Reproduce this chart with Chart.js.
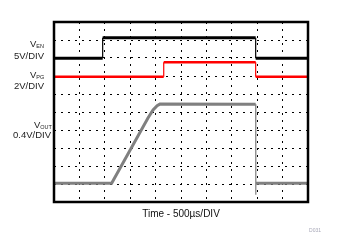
<!DOCTYPE html>
<html>
<head>
<meta charset="utf-8">
<script src="https://cdn.jsdelivr.net/npm/chart.js@4"></script>
<style>
  html, body { margin: 0; padding: 0; background: #fff; }
  canvas { display: block; }
</style>
</head>
<body>
<canvas id="scope" width="337" height="252"></canvas>
<script>
// time in µs (500 µs / div), level in screen divisions (0 = bottom of graticule)
const enTime = [0, 958, 958, 3970, 3970, 5000];
const enLevel = [7.98, 7.98, 9.12, 9.12, 7.98, 7.98];

const pgTime = [0, 2160, 2160, 3970, 3970, 5000];
const pgLevel = [6.96, 6.96, 7.76, 7.76, 6.96, 6.96];

const outTime = [0, 1135, 1850, 1950, 2030, 2085, 3970, 3970, 3972, 3976, 5000];
const outLevel = [1.04, 1.04, 4.67, 5.11, 5.35, 5.44, 5.43, 1.04, 0.4, 1.04, 1.04];

const xTicks = { min: 0, max: 5000, step: 500 };
const yTicks = { min: 0, max: 10, step: 1 };

// left side channel labels
const chLabels = [
  { name: 'V', sub: 'EN', scale: '5V/DIV' },
  { name: 'V', sub: 'PG', scale: '2V/DIV' },
  { name: 'V', sub: 'OUT', scale: '0.4V/DIV' }
];
const xTitle = 'Time - 500µs/DIV';
const figId = 'D031';

const toPoints = (t, v) => t.map((x, i) => ({ x: x, y: v[i] }));

// thin steep edges, thicker flat parts like a scope trace
const edgeWidth = (thick, thin) => ctx =>
  Math.abs(ctx.p1.parsed.x - ctx.p0.parsed.x) < 20 ? thin : thick;

const framePlugin = {
  id: 'frame',
  afterDraw(chart) {
    const { ctx, chartArea: a } = chart;
    ctx.save();
    ctx.strokeStyle = '#000';
    ctx.lineWidth = 2.5;
    ctx.strokeRect(a.left, a.top, a.right - a.left, a.bottom - a.top);

    // channel labels
    const font = '9.5px "Liberation Sans", Arial, sans-serif';
    const subFont = '5.5px "Liberation Sans", Arial, sans-serif';
    const pos = [
      { nx: 30, ny: 47, sx: 14, sy: 59 },
      { nx: 30, ny: 78, sx: 14, sy: 89 },
      { nx: 34, ny: 128, sx: 13, sy: 137.5 }
    ];
    ctx.fillStyle = '#222';
    ctx.textAlign = 'left';
    ctx.textBaseline = 'alphabetic';
    chLabels.forEach((l, i) => {
      const p = pos[i];
      ctx.font = font;
      ctx.fillText(l.name, p.nx, p.ny);
      const w = ctx.measureText(l.name).width;
      ctx.font = subFont;
      ctx.fillText(l.sub, p.nx + w, p.ny + 0.5);
      ctx.font = font;
      ctx.fillText(l.scale, p.sx, p.sy);
    });

    // time axis title
    ctx.fillStyle = '#111';
    ctx.textAlign = 'center';
    ctx.font = '10px "Liberation Sans", Arial, sans-serif';
    ctx.fillText(xTitle, (a.left + a.right) / 2, a.bottom + 15);

    ctx.fillStyle = '#a8a8b8';
    ctx.font = '5px "Liberation Sans", Arial, sans-serif';
    ctx.fillText(figId, 315, 232);
    ctx.restore();
  }
};

new Chart(document.getElementById('scope').getContext('2d'), {
  type: 'line',
  data: {
    datasets: [
      {
        label: 'VOUT',
        data: toPoints(outTime, outLevel),
        borderColor: '#808080',
        borderWidth: 3,
        segment: { borderWidth: edgeWidth(3, 1.2) }
      },
      {
        label: 'VPG',
        data: toPoints(pgTime, pgLevel),
        borderColor: '#ff0000',
        borderWidth: 2.6,
        segment: { borderWidth: edgeWidth(2.6, 1.2) }
      },
      {
        label: 'VEN',
        data: toPoints(enTime, enLevel),
        borderColor: '#000000',
        borderWidth: 3,
        segment: { borderWidth: edgeWidth(3, 1.2) }
      }
    ]
  },
  options: {
    responsive: false,
    animation: false,
    events: [],
    layout: { padding: { left: 54, top: 22, right: 29, bottom: 50 } },
    elements: {
      point: { radius: 0 },
      line: { tension: 0, borderJoinStyle: 'miter', borderCapStyle: 'butt' }
    },
    plugins: {
      legend: { display: false },
      tooltip: { enabled: false }
    },
    scales: {
      x: {
        type: 'linear',
        min: xTicks.min,
        max: xTicks.max,
        ticks: { display: false, stepSize: xTicks.step },
        grid: { color: '#000', lineWidth: 1, drawTicks: false },
        border: { display: false, dash: [2, 5] }
      },
      y: {
        type: 'linear',
        min: yTicks.min,
        max: yTicks.max,
        ticks: { display: false, stepSize: yTicks.step },
        grid: { color: '#000', lineWidth: 1, drawTicks: false },
        border: { display: false, dash: [2, 5] }
      }
    }
  },
  plugins: [framePlugin]
});
</script>
</body>
</html>
